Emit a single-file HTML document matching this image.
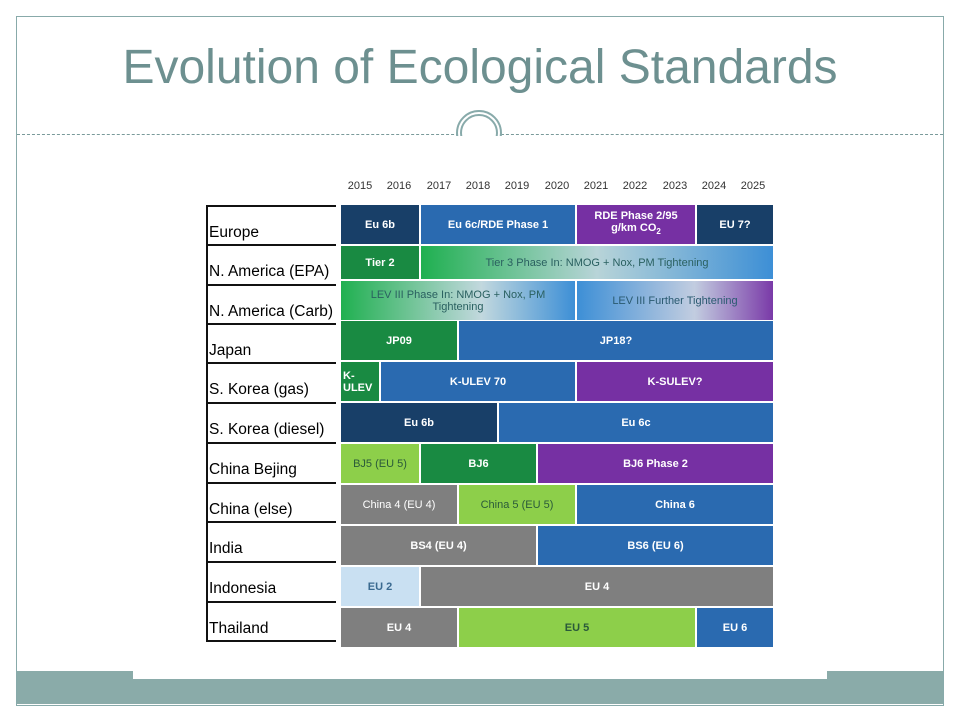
<!DOCTYPE html>
<html><head><meta charset="utf-8"><style>
body{margin:0;width:960px;height:720px;background:#fff;position:relative;overflow:hidden;font-family:"Liberation Sans",sans-serif}
.a{position:absolute}
.b{position:absolute;display:flex;align-items:center;justify-content:center;text-align:center;color:#fff;font-weight:bold;font-size:11px;line-height:12px}
.yr{position:absolute;top:180px;font-size:11px;color:#333;width:40px;text-align:center}
.lab{position:absolute;left:209px;font-size:15.5px;color:#000;width:130px;white-space:nowrap}
.ln{position:absolute;left:206px;width:130px;height:2px;background:#111}
</style></head><body>
<div class="a" style="left:16px;top:16px;width:926px;height:688px;border:1px solid #8aa"></div>
<div class="a" style="left:0;top:40px;width:960px;text-align:center;font-size:48px;color:#6d9090">Evolution of Ecological Standards</div>
<div class="a" style="left:17px;top:134px;width:926px;border-top:1px dashed #7a9a9a"></div>
<div class="a" style="left:456px;top:110px;width:46px;height:46px;border-radius:50%;border:2px solid #8aa;background:#fff;box-sizing:border-box"></div>
<div class="a" style="left:460px;top:114px;width:38px;height:38px;border-radius:50%;border:2px solid #8aa;box-sizing:border-box"></div>
<div class="a" style="left:446px;top:136px;width:66px;height:30px;background:#fff"></div>
<div class="a" style="left:17px;top:671px;width:926px;height:33px;background:#8aaba9"></div>
<div class="a" style="left:133px;top:671px;width:694px;height:8px;background:#fff"></div>

<div class="yr" style="left:340px">2015</div><div class="yr" style="left:379px">2016</div><div class="yr" style="left:419px">2017</div><div class="yr" style="left:458px">2018</div><div class="yr" style="left:497px">2019</div><div class="yr" style="left:537px">2020</div><div class="yr" style="left:576px">2021</div><div class="yr" style="left:615px">2022</div><div class="yr" style="left:655px">2023</div><div class="yr" style="left:694px">2024</div><div class="yr" style="left:733px">2025</div>

<div class="a" style="left:206px;top:206px;width:2px;height:436px;background:#111"></div>
<div class="ln" style="top:205px"></div><div class="ln" style="top:244px"></div><div class="ln" style="top:284px"></div><div class="ln" style="top:323px"></div><div class="ln" style="top:362px"></div><div class="ln" style="top:402px"></div><div class="ln" style="top:442px"></div><div class="ln" style="top:482px"></div><div class="ln" style="top:521px"></div><div class="ln" style="top:561px"></div><div class="ln" style="top:601px"></div><div class="ln" style="top:640px"></div>
<div class="lab" style="top:224px">Europe</div>
<div class="lab" style="top:263px">N. America (EPA)</div>
<div class="lab" style="top:303px">N. America (Carb)</div>
<div class="lab" style="top:342px">Japan</div>
<div class="lab" style="top:381px">S. Korea (gas)</div>
<div class="lab" style="top:421px">S. Korea (diesel)</div>
<div class="lab" style="top:461px">China Bejing</div>
<div class="lab" style="top:501px">China (else)</div>
<div class="lab" style="top:540px">India</div>
<div class="lab" style="top:580px">Indonesia</div>
<div class="lab" style="top:620px">Thailand</div>

<div class="b" style="left:341px;top:205px;width:78px;height:39px;background:#183f68">Eu 6b</div>
<div class="b" style="left:421px;top:205px;width:154px;height:39px;background:#2a6ab0">Eu 6c/RDE Phase 1</div>
<div class="b" style="left:577px;top:205px;width:118px;height:39px;background:#7630a3"><span>RDE Phase 2/95<br>g/km CO<sub style="font-size:8px">2</sub></span></div>
<div class="b" style="left:697px;top:205px;width:76px;height:39px;background:#183f68">EU 7?</div>
<div class="b" style="left:341px;top:246px;width:78px;height:33px;background:#198a42">Tier 2</div>
<div class="b" style="left:421px;top:246px;width:352px;height:33px;background:linear-gradient(90deg,#1fb050,#b8d4d8 50%,#3d8fd6);color:#2a6060;font-weight:normal">Tier 3 Phase In: NMOG + Nox, PM Tightening</div>
<div class="b" style="left:341px;top:281px;width:234px;height:39px;background:linear-gradient(90deg,#20b050,#c2d8de 60%,#3d8fd6);color:#2a6060;font-weight:normal">LEV III Phase In: NMOG + Nox, PM<br>Tightening</div>
<div class="b" style="left:577px;top:281px;width:196px;height:39px;background:linear-gradient(90deg,#3d8fd6,#c2cde0 60%,#7a3aa8);color:#2a5a70;font-weight:normal">LEV III Further Tightening</div>
<div class="b" style="left:341px;top:321px;width:116px;height:39px;background:#198a42">JP09</div>
<div class="b" style="left:459px;top:321px;width:314px;height:39px;background:#2a6ab0">JP18?</div>
<div class="b" style="left:341px;top:362px;width:38px;height:39px;background:#198a42;justify-content:flex-start;text-align:left;padding-left:2px;box-sizing:border-box">K-<br>ULEV</div>
<div class="b" style="left:381px;top:362px;width:194px;height:39px;background:#2a6ab0">K-ULEV 70</div>
<div class="b" style="left:577px;top:362px;width:196px;height:39px;background:#7630a3">K-SULEV?</div>
<div class="b" style="left:341px;top:403px;width:156px;height:39px;background:#183f68">Eu 6b</div>
<div class="b" style="left:499px;top:403px;width:274px;height:39px;background:#2a6ab0">Eu 6c</div>
<div class="b" style="left:341px;top:444px;width:78px;height:39px;background:#8dcf4a;color:#2a5a3a;font-weight:normal">BJ5 (EU 5)</div>
<div class="b" style="left:421px;top:444px;width:115px;height:39px;background:#198a42">BJ6</div>
<div class="b" style="left:538px;top:444px;width:235px;height:39px;background:#7630a3">BJ6 Phase 2</div>
<div class="b" style="left:341px;top:485px;width:116px;height:39px;background:#7f7f7f;font-weight:normal">China 4 (EU 4)</div>
<div class="b" style="left:459px;top:485px;width:116px;height:39px;background:#8dcf4a;color:#2a5a3a;font-weight:normal">China 5 (EU 5)</div>
<div class="b" style="left:577px;top:485px;width:196px;height:39px;background:#2a6ab0">China 6</div>
<div class="b" style="left:341px;top:526px;width:195px;height:39px;background:#7f7f7f">BS4 (EU 4)</div>
<div class="b" style="left:538px;top:526px;width:235px;height:39px;background:#2a6ab0">BS6 (EU 6)</div>
<div class="b" style="left:341px;top:567px;width:78px;height:39px;background:#c9e0f2;color:#3a6a90">EU 2</div>
<div class="b" style="left:421px;top:567px;width:352px;height:39px;background:#7f7f7f">EU 4</div>
<div class="b" style="left:341px;top:608px;width:116px;height:39px;background:#7f7f7f">EU 4</div>
<div class="b" style="left:459px;top:608px;width:236px;height:39px;background:#8dcf4a;color:#2a5a3a">EU 5</div>
<div class="b" style="left:697px;top:608px;width:76px;height:39px;background:#2a6ab0">EU 6</div>
</body></html>
